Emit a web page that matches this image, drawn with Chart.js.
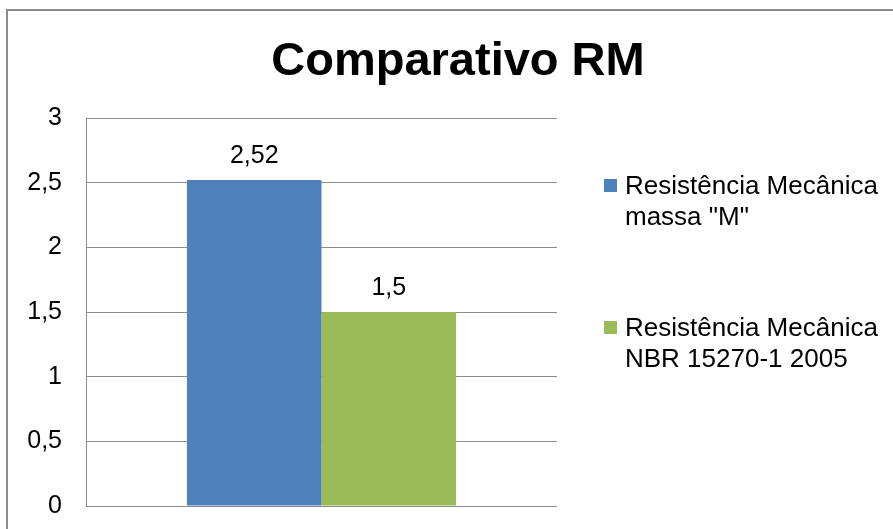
<!DOCTYPE html>
<html>
<head>
<meta charset="utf-8">
<script src="https://cdn.jsdelivr.net/npm/chart.js@4"></script>
<style>
  html, body { margin: 0; padding: 0; background: #fff; overflow: hidden; }
  #box {
    position: absolute; left: 6px; top: 9px;
    width: 900px; height: 534px;
    border: 2px solid #8c8c8c; background: #fff;
  }
  #legend {
    position: absolute; left: 596px; top: 159px;
    font-family: "Liberation Sans", Arial, sans-serif; font-size: 26px; color: #000;
    line-height: 31px;
  }
  .item { position: relative; padding-left: 21px; width: 290px; }
  .item span.sw { position: absolute; left: 0; top: 9px; width: 13px; height: 13px; }
</style>
</head>
<body>
<div id="box">
  <canvas id="chart" width="900" height="534"></canvas>
  <div id="legend"></div>
</div>
<script>
// categorias e séries
const categories = [''];
const seriesNames = ['Resistência Mecânica massa "M"', 'Resistência Mecânica NBR 15270-1 2005'];
const seriesValues = [[2.52], [1.5]];
const seriesColors = ['#4F81BD', '#9BBB59'];
const tickValues = [0, 0.5, 1, 1.5, 2, 2.5, 3];
const chartTitle = 'Comparativo RM';

const fontFamily = '"Liberation Sans", Arial, sans-serif';

function fmt(v) {
    return String(v).replace('.', ',');
}

// título centrado no gráfico inteiro
const centerTitle = {
    id: 'centerTitle',
    afterDraw(chart) {
        const ctx = chart.ctx;
        ctx.save();
        ctx.font = 'bold 47px ' + fontFamily;
        ctx.fillStyle = '#000';
        ctx.textAlign = 'center';
        ctx.textBaseline = 'alphabetic';
        ctx.fillText(chartTitle, chart.width / 2, 64);
        ctx.restore();
    }
};

// rótulos de dados acima das barras
const valueLabels = {
    id: 'valueLabels',
    afterDatasetsDraw(chart) {
        const ctx = chart.ctx;
        ctx.save();
        ctx.font = '25px ' + fontFamily;
        ctx.fillStyle = '#000';
        ctx.textAlign = 'center';
        ctx.textBaseline = 'alphabetic';
        chart.data.datasets.forEach((ds, i) => {
            chart.getDatasetMeta(i).data.forEach((bar, j) => {
                ctx.fillText(fmt(ds.data[j]), bar.x, bar.y - 17);
            });
        });
        ctx.restore();
    }
};

const ctx = document.getElementById('chart').getContext('2d');
new Chart(ctx, {
    type: 'bar',
    data: {
        labels: categories,
        datasets: seriesNames.map((name, i) => ({
            label: name,
            data: seriesValues[i],
            backgroundColor: seriesColors[i],
            borderWidth: 0,
            barPercentage: 1,
            categoryPercentage: 2 / 3.5
        }))
    },
    options: {
        responsive: false,
        animation: false,
        layout: { padding: { left: 0, right: 351, top: 107, bottom: 11 } },
        plugins: {
            legend: { display: false },
            tooltip: { enabled: false },
            title: { display: false }
        },
        scales: {
            x: { display: false },
            y: {
                min: 0,
                max: 3,
                afterFit(scale) { scale.width = 78; },
                afterBuildTicks(scale) { scale.ticks = tickValues.map(v => ({ value: v })); },
                grid: { color: '#8c8c8c', lineWidth: 1, drawTicks: false },
                border: { display: true, color: '#8c8c8c', width: 1 },
                ticks: {
                    color: '#000',
                    padding: 24,
                    font: { family: fontFamily, size: 25 },
                    callback: v => fmt(v)
                }
            }
        }
    },
    plugins: [valueLabels, centerTitle]
});

// legenda em HTML
const legend = document.getElementById('legend');
seriesNames.forEach((name, i) => {
    const div = document.createElement('div');
    div.className = 'item';
    div.style.marginBottom = i === 0 ? '80px' : '0';
    div.innerHTML = '<span class="sw" style="background:' + seriesColors[i] + '"></span>';
    div.appendChild(document.createTextNode(name));
    legend.appendChild(div);
});
</script>
</body>
</html>
